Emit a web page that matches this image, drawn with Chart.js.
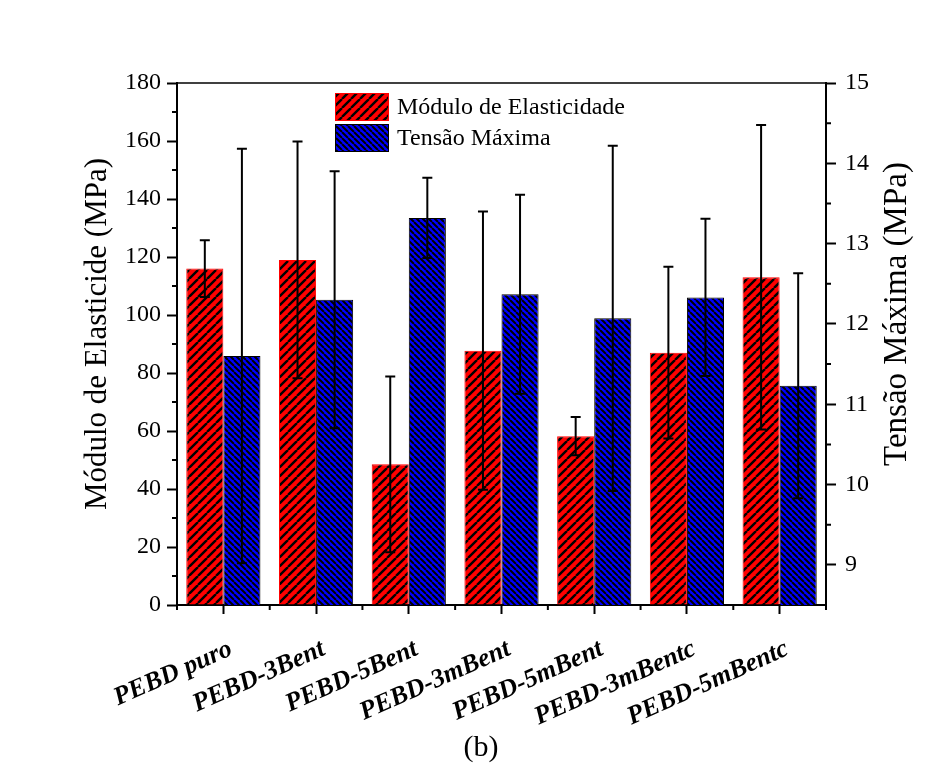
<!DOCTYPE html>
<html>
<head>
<meta charset="utf-8">
<script src="https://cdn.jsdelivr.net/npm/chart.js@4.4.1/dist/chart.umd.min.js"></script>
<style>
    html, body { margin: 0; padding: 0; background: #ffffff; }
    canvas { display: block; }
</style>
</head>
<body>
<canvas id="barChart" width="943" height="767"></canvas>
<script>
const categories = ['PEBD puro', 'PEBD-3Bent', 'PEBD-5Bent', 'PEBD-3mBent', 'PEBD-5mBent', 'PEBD-3mBentc', 'PEBD-5mBentc'];
const modulo = [116, 119, 48.5, 87.7, 58.2, 87, 113];
const moduloErr = [9.8, 40.8, 30.3, 48, 6.6, 29.6, 52.5];
const tensao = [11.6, 12.3, 13.32, 12.37, 12.07, 12.33, 11.23];
const tensaoErr = [2.58, 1.6, 0.5, 1.24, 2.15, 0.98, 1.4];
const leftTicks = [0, 20, 40, 60, 80, 100, 120, 140, 160, 180];
const rightTicks = [9, 10, 11, 12, 13, 14, 15];

const serif = "'Liberation Serif', 'Times New Roman', serif";

function makeHatch(color, size, lineWidth, forward) {
    const c = document.createElement('canvas');
    c.width = size;
    c.height = size;
    const g = c.getContext('2d');
    g.fillStyle = color;
    g.fillRect(0, 0, size, size);
    g.strokeStyle = '#000000';
    g.lineWidth = lineWidth;
    g.beginPath();
    [-size, 0, size].forEach(x0 => {
        if (forward) {
            g.moveTo(x0, size);
            g.lineTo(x0 + size, 0);
        } else {
            g.moveTo(x0, 0);
            g.lineTo(x0 + size, size);
        }
    });
    g.stroke();
    return g.createPattern(c, 'repeat');
}

const ctx = document.getElementById('barChart').getContext('2d');
const redHatch = makeHatch('#ff0000', 9, 2.4, true);
const blueHatch = makeHatch('#0000ff', 6, 2, false);

const errorBars = {
    id: 'errorBars',
    afterDatasetsDraw(chart) {
        const c = chart.ctx;
        const errs = [moduloErr, tensaoErr];
        c.save();
        c.strokeStyle = '#000000';
        c.lineWidth = 2;
        chart.data.datasets.forEach((ds, i) => {
            const scale = chart.scales[ds.yAxisID];
            chart.getDatasetMeta(i).data.forEach((bar, j) => {
                const v = ds.data[j];
                const top = scale.getPixelForValue(v + errs[i][j]);
                const bot = scale.getPixelForValue(v - errs[i][j]);
                c.beginPath();
                c.moveTo(bar.x, top);
                c.lineTo(bar.x, bot);
                c.moveTo(bar.x - 5, top);
                c.lineTo(bar.x + 5, top);
                c.moveTo(bar.x - 5, bot);
                c.lineTo(bar.x + 5, bot);
                c.stroke();
            });
        });
        c.restore();
    }
};

const decorations = {
    id: 'decorations',
    afterDraw(chart) {
        const c = chart.ctx;
        const area = chart.chartArea;
        const { x, y, y1 } = chart.scales;
        c.save();
        c.strokeStyle = '#000000';

        // top frame line
        c.lineWidth = 1.5;
        c.beginPath();
        c.moveTo(area.left, area.top);
        c.lineTo(area.right, area.top);
        c.stroke();

        // minor ticks
        c.lineWidth = 2;
        c.beginPath();
        for (let v = 10; v < 180; v += 20) {
            const py = y.getPixelForValue(v);
            c.moveTo(area.left - 5, py);
            c.lineTo(area.left, py);
        }
        for (let v = 9.5; v < 15; v += 1) {
            const py = y1.getPixelForValue(v);
            c.moveTo(area.right, py);
            c.lineTo(area.right + 5, py);
        }
        for (let i = 0; i <= categories.length; i++) {
            const px = x.getPixelForValue(i - 0.5);
            c.moveTo(px, area.bottom);
            c.lineTo(px, area.bottom + 5);
        }
        c.stroke();

        // category labels, rotated and right-aligned a little past the tick
        c.fillStyle = '#000000';
        c.font = 'italic bold 26px ' + serif;
        c.textAlign = 'right';
        c.textBaseline = 'middle';
        categories.forEach((name, i) => {
            c.save();
            c.translate(x.getPixelForTick(i) + 7.5, area.bottom + 43);
            c.rotate(-24 * Math.PI / 180);
            c.fillText(name, 0, 0);
            c.restore();
        });

        // legend
        c.font = '24px ' + serif;
        c.textBaseline = 'middle';
        c.textAlign = 'left';
        chart.data.datasets.forEach((ds, i) => {
            const bx = 335, by = 93 + i * 31;
            c.fillStyle = ds.backgroundColor;
            c.fillRect(bx, by, 54, 28);
            c.lineWidth = 1;
            c.strokeStyle = ds.legendBorder;
            c.strokeRect(bx + 0.5, by + 0.5, 53, 27);
            c.fillStyle = '#000000';
            c.fillText(ds.label, 397, by + 15);
        });

        // axis titles
        c.textAlign = 'center';
        c.textBaseline = 'alphabetic';
        c.fillStyle = '#000000';
        c.save();
        c.translate(106, 334);
        c.rotate(-Math.PI / 2);
        c.font = '31px ' + serif;
        c.fillText('Módulo de Elasticide (MPa)', 0, 0);
        c.restore();

        c.save();
        c.translate(906, 314);
        c.rotate(-Math.PI / 2);
        c.font = '33px ' + serif;
        c.fillText('Tensão Máxima (MPa)', 0, 0);
        c.restore();

        // caption
        c.font = '30px ' + serif;
        c.textBaseline = 'middle';
        c.fillText('(b)', 481, 748);
        c.restore();
    }
};

const tickGrid = {
    drawOnChartArea: false,
    drawTicks: true,
    tickLength: 10,
    tickWidth: 2,
    tickColor: '#000000',
};

new Chart(ctx, {
    type: 'bar',
    data: {
        labels: categories,
        datasets: [
            {
                label: 'Módulo de Elasticidade',
                data: modulo,
                yAxisID: 'y',
                backgroundColor: redHatch,
                borderColor: '#ff0000',
                legendBorder: '#ff0000',
                borderWidth: 1,
                categoryPercentage: 0.8,
                barPercentage: 1.0,
            },
            {
                label: 'Tensão Máxima',
                data: tensao,
                yAxisID: 'y1',
                backgroundColor: blueHatch,
                borderColor: '#000000',
                legendBorder: '#000000',
                borderWidth: 1,
                categoryPercentage: 0.8,
                barPercentage: 1.0,
            },
        ],
    },
    options: {
        responsive: false,
        animation: false,
        devicePixelRatio: 1,
        layout: { padding: { top: 83, left: 0, right: 0, bottom: 0 } },
        plugins: {
            legend: { display: false },
            tooltip: { enabled: false },
        },
        scales: {
            x: {
                grid: { ...tickGrid, offset: false, tickLength: 9 },
                border: { color: '#000000', width: 2 },
                ticks: { display: false },
                afterFit: scale => { scale.height = 162; },
            },
            y: {
                position: 'left',
                min: 0,
                max: 180,
                grid: tickGrid,
                border: { color: '#000000', width: 2 },
                ticks: { color: '#000000', font: { family: serif, size: 24 }, padding: 6 },
                afterBuildTicks: scale => { scale.ticks = leftTicks.map(v => ({ value: v })); },
                afterFit: scale => { scale.width = 177; },
            },
            y1: {
                position: 'right',
                min: 8.5,
                max: 15,
                grid: tickGrid,
                border: { color: '#000000', width: 2 },
                ticks: { color: '#000000', font: { family: serif, size: 24 }, padding: 9 },
                afterBuildTicks: scale => { scale.ticks = rightTicks.map(v => ({ value: v })); },
                afterFit: scale => { scale.width = 117; },
            },
        },
    },
    plugins: [errorBars, decorations],
});
</script>
</body>
</html>
